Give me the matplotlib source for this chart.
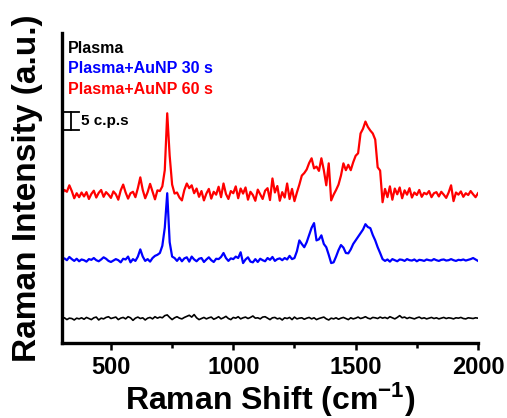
import numpy as np
import matplotlib
matplotlib.use("Agg")
import matplotlib.pyplot as plt
from matplotlib.ticker import MultipleLocator

plt.rcParams['font.family'] = ['Liberation Sans', 'DejaVu Sans']
plt.rcParams['font.weight'] = 'bold'
plt.rcParams['mathtext.fontset'] = 'custom'
plt.rcParams['mathtext.rm'] = 'Liberation Sans:bold'
plt.rcParams['mathtext.bf'] = 'Liberation Sans:bold'
plt.rcParams['mathtext.default'] = 'bf'

# Raman shift axis (cm^-1), 10 cm^-1 steps
shift = np.arange(300, 2001, 10)

# Spectra in c.p.s, relative to each baseline
plasma = [
    0.0, 0.3, -0.2, 0.2, 0.1, -0.3, 0.2, 0.0, 0.3, -0.1,
    0.4, 0.1, -0.2, 0.3, 0.5, -0.3, 0.2, 0.0, 0.4, 0.6,
    0.1, 0.3, 0.5, -0.2, 0.2, 0.4, 0.0, 0.6, 0.3, -0.4,
    0.2, 0.5, 0.1, 0.3, -0.3, 0.2, 0.4, 0.0, 0.6, 0.2,
    0.5, 0.3, 0.9, 1.1, 0.4, -0.2, 0.3, 0.6, 0.2, 0.0,
    0.4, 0.7, 1.0, 0.5, 1.2, 0.3, -0.2, 0.1, 0.4, 0.0,
    0.3, 0.5, -0.1, 0.2, 0.6, 0.0, 0.3, 0.7, 0.1, -0.2,
    0.4, 0.2, 0.6, 0.0, 0.3, 0.5, 0.1, 0.4, 0.8, 0.2,
    0.3, 0.0, 0.5, 0.6, 0.2, -0.2, 0.3, 0.4, 0.0, 0.2,
    -0.3, 0.3, 0.1, 0.4, -0.2, 0.5, 0.0, 0.2, 0.3, -0.1,
    0.2, 0.4, 0.0, 0.3, -0.2, 0.1, 0.3, 0.5, 0.0, -0.3,
    0.2, 0.0, 0.3, -0.1, 0.2, 0.4, 0.1, -0.2, 0.3, 0.0,
    0.2, 0.5, 0.1, 0.3, 0.6, 0.2, 0.0, 0.4, 0.3, 0.1,
    0.5, 0.2, 0.4, 0.1, 0.6, 0.3, 0.0, 0.4, 0.9, 0.3,
    0.5, 0.1, 0.4, 0.2, 0.0, 0.3, 0.5, 0.1, 0.3, 0.0,
    0.2, 0.4, 0.1, 0.3, 0.0, 0.2, 0.4, 0.1, 0.3, 0.2,
    0.0, 0.3, 0.2, 0.4, 0.1, 0.0, 0.3, 0.2, 0.1, 0.3,
    0.2,
]

aunp_30s = [
    0.2, 0.5, 0.0, 0.9, 0.3, -0.2, 0.4, -0.3, 0.2, 0.0,
    -0.4, 0.3, 0.1, 0.6, 0.0, -0.3, 0.2, 0.8, 0.4, -0.2,
    -0.5, -0.1, 0.3, 0.0, -0.6, 0.4, 0.2, 1.0, -0.6, 0.3,
    -0.2, 1.0, 3.0, 1.0, -0.2, 0.3, -0.4, 0.6, 1.2, 1.5,
    2.0, 4.0, 9.0, 18.6, 5.0, 1.0, 0.6, -0.2, 0.7, -0.3,
    0.5, 0.8, -0.4, 1.0, 0.2, -0.3, 0.4, 0.6, -0.5, 0.2,
    0.8, 0.0, -0.5, 0.4, 0.3, 0.9, 2.0, 0.6, -0.2, 0.5,
    0.3, 1.0, 0.6, 2.2, -0.8, 0.2, 0.8, -0.4, -0.6, 0.3,
    -0.5, 0.4, 0.0, -0.3, 0.6, 0.1, 0.9, -0.2, 0.3, 0.5,
    0.0, 0.6, 0.2, 1.2, 0.3, 0.6, 2.5, 5.5, 4.5, 3.6,
    5.0, 7.0, 9.0, 10.3, 5.5, 5.8, 6.9, 4.5, 3.6, 1.5,
    -0.8, -0.6, 1.0, 2.8, 4.2, 3.5, 2.0, 1.9, 3.0, 4.5,
    5.5, 6.5, 7.5, 8.5, 10.0, 9.2, 8.9, 7.0, 5.5, 3.6,
    2.0, 0.3, -0.2, 0.2, -0.4, 0.3, 0.0, -0.3, 0.2, 0.1,
    -0.2, 0.3, 0.0, -0.1, 0.2, -0.3, 0.1, 0.0, -0.2, 0.2,
    0.0, -0.1, 0.3, 0.0, -0.2, 0.1, 0.2, -0.1, 0.0, 0.3,
    0.0, -0.2, 0.1, 0.0, 0.2, -0.1, 0.1, 0.3, 0.6, 0.2,
    -0.2,
]

aunp_60s = [
    0.5, 1.5, 1.0, 2.8, 1.2, -0.8, 0.6, -0.5, 0.8, -0.3,
    0.9, -1.0, 0.4, 1.3, -0.6, 0.7, 1.5, -0.4, 0.9, 0.2,
    -0.7, 1.1, 0.3, -1.2, 1.4, 3.0, 0.8, -0.9, 0.6, 1.0,
    -0.5, 2.0, 5.0, 1.5, -0.8, 0.9, 3.2, 1.0, -1.1, 1.4,
    1.2, 2.5, 7.0, 22.8, 11.0, 3.0, 0.5, 0.8, -0.6, -1.4,
    1.5, 3.3, 2.0, 2.8, 0.6, 1.9, -0.4, 1.2, -1.4, 0.5,
    1.8, -0.9, 1.0, 0.2, 2.4, -0.5, 3.3, 0.4, -1.0, 1.2,
    0.6, 2.5, -0.8, 1.9, 0.5, 2.2, -1.2, 1.0, 0.1, -1.5,
    1.6, 0.3, -1.0, 1.3, 2.0, -1.3, 4.7, 0.8, 2.6, -1.5,
    0.9, -0.6, 3.3, -1.0, 1.8, -1.6, 0.8, 3.0, 5.5, 6.2,
    7.2, 9.0, 10.3, 7.5, 8.0, 6.8, 10.3, 7.0, 2.8, 8.9,
    -1.4, 0.2, 1.5, 3.0, 5.5, 8.9, 7.0, 8.5, 7.0, 9.2,
    11.0, 11.7, 17.2, 18.5, 20.5, 19.0, 18.0, 17.2, 15.5, 7.8,
    6.9, -1.9, 1.8, -0.5, 2.5, -1.2, 1.9, 0.3, 2.2, -0.8,
    1.4, 0.2, 2.0, -0.6, 0.8, 0.1, 1.5, -0.4, 0.7, 0.3,
    1.2, -0.5, 0.6, 0.9, -0.3, 1.0, 0.2, -0.7, 0.8, 2.8,
    -1.6, 0.8, 0.2, 1.1, -0.4, 0.6, 0.1, 1.2, 0.3, -0.5,
    0.6,
]

labels = ["Plasma", "Plasma+AuNP 30 s", "Plasma+AuNP 60 s"]
colors = ["black", "#0000FF", "#FF0000"]
offsets = [6.7, 23.0, 41.0]
widths = [1.2, 1.6, 1.6]
scale_value = 5  # c.p.s

fig = plt.figure(figsize=(5.07, 4.18), dpi=100)
ax = fig.add_axes([62 / 507, 75 / 418, 416 / 507, 310 / 418])

for y, c, off, lw in zip([plasma, aunp_30s, aunp_60s], colors, offsets, widths):
    ax.plot(shift, np.asarray(y) + off, color=c, lw=lw)

ax.set_xlim(300, 2000)
ax.set_ylim(0, 86.1)

for side in ("top", "right"):
    ax.spines[side].set_visible(False)
for side in ("left", "bottom"):
    ax.spines[side].set_linewidth(2.4)

ax.set_yticks([])
ax.xaxis.set_major_locator(MultipleLocator(500))
ax.xaxis.set_minor_locator(MultipleLocator(250))
ax.tick_params(axis="x", which="major", direction="out", length=5, width=1.8,
               labelsize=17, pad=4)
ax.tick_params(axis="x", which="minor", direction="out", length=3.5, width=1.8)
for t in ax.get_xticklabels():
    t.set_fontweight("bold")

ax.set_xlabel("Raman Shift (cm$^{-1}$)", fontsize=23, fontweight="bold")
ax.xaxis.set_label_coords(0.5, -0.122)
ax.set_ylabel("Raman Intensity (a.u.)", fontsize=24, fontweight="bold")
ax.yaxis.set_label_coords(-0.045, 0.5)

# Legend as coloured text lines
for i, (lab, c) in enumerate(zip(labels, colors)):
    ax.text(0.015, 0.95 - i * 0.066, lab, transform=ax.transAxes, color=c,
            fontsize=11.5, fontweight="bold", va="center", ha="left")

# Intensity scale bar
bar_x, bar_y = 337, 59.2
ax.plot([bar_x, bar_x], [bar_y, bar_y + scale_value], color="black", lw=1.3)
ax.plot([305, 369], [bar_y, bar_y], color="black", lw=1.3)
ax.plot([305, 369], [bar_y + scale_value, bar_y + scale_value], color="black", lw=1.3)
ax.text(378, bar_y + scale_value / 2, f"{scale_value} c.p.s", fontsize=11,
        fontweight="bold", va="center", ha="left")

fig.savefig("out.png", dpi=100)
